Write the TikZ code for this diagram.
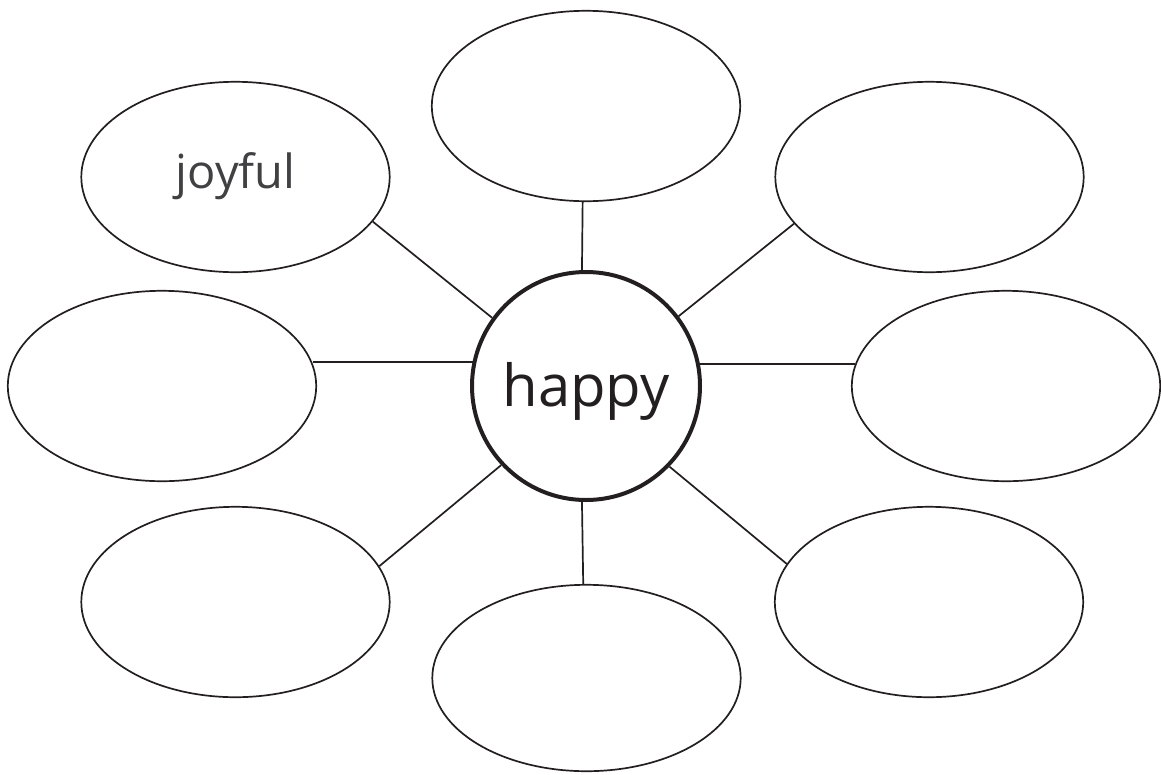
\documentclass[tikz,border=0pt]{standalone}
\usepackage{fontspec}
\setmainfont{Open Sans}
\usetikzlibrary{shapes.geometric,calc}
\definecolor{ink}{HTML}{231F20}
\definecolor{soft}{HTML}{414042}
\begin{document}
\begin{tikzpicture}[x=1pt,y=-1pt,
  bubble/.style={draw=ink, ellipse, line width=1.7pt, minimum width=308.4pt, minimum height=190.4pt, inner sep=0pt},
  hub/.style={draw=ink, circle, line width=4pt, minimum size=228pt, inner sep=0pt},
  spoke/.style={draw=ink, line width=1.7pt}]
\useasboundingbox (0,0) rectangle (1161,774);
\node[hub, font=\fontsize{58}{60}\selectfont, text=ink, text height=44pt, text depth=4pt] (c) at (586,386) {happy};
\node[bubble] (t) at (586,106) {};
\node[bubble, font=\fontsize{47}{50}\selectfont, text=soft, text height=36pt, text depth=14pt] (tl) at (235.5,177) {joyful};
\node[bubble] (tr) at (929.5,177) {};
\node[bubble] (l) at (162,386) {};
\node[bubble] (r) at (1006,386) {};
\node[bubble] (bl) at (235.5,602) {};
\node[bubble] (br) at (929,602) {};
\node[bubble, minimum height=186.4pt] (b) at (586.5,678) {};
\draw[spoke] (t.-92.4) -- (c.92);
\draw[spoke] (tl.-18.1) -- (c.144.7);
\draw[spoke] (tr.-161.4) -- (c.37.4);
\draw[spoke] (c.168.4) -- ($(c.168.4 -| l.east)+(-4.5,0)$);
\draw[spoke] (c.11.6) -- ($(c.11.6 -| r.west)+(4.5,0)$);
\draw[spoke] (bl.14.4) -- (c.223);
\draw[spoke] (br.165.9) -- (c.-44.3);
\draw[spoke] (b.92.7) -- (c.-92);
\end{tikzpicture}
\end{document}
